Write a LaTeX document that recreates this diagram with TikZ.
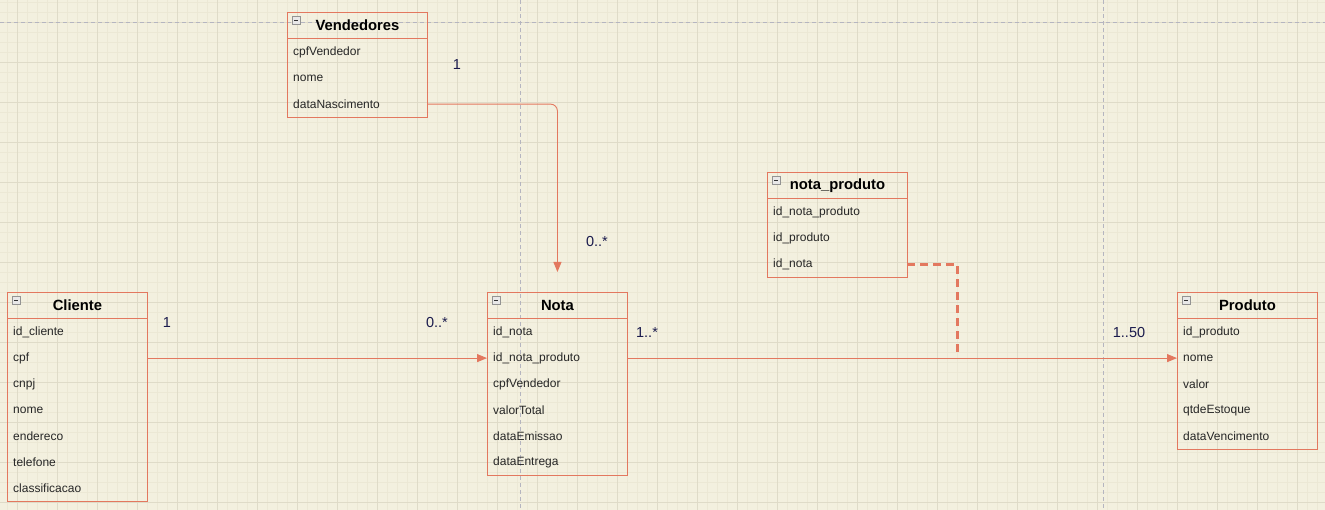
\documentclass[tikz,border=0pt]{standalone}
\usepackage{fontspec}
\setmainfont{Liberation Sans}
\usetikzlibrary{arrows.meta,calc}

\definecolor{fundo}{HTML}{F3F0DF}
\definecolor{gradefina}{HTML}{ECE8D5}
\definecolor{gradegrossa}{HTML}{DFDBC8}
\definecolor{borda}{HTML}{E3785F}
\definecolor{azulrot}{HTML}{1B1B4D}
\definecolor{quebra}{HTML}{B5B5C0}

\tikzset{
  cabecalho/.style={draw=borda,line width=0.9pt,anchor=north west,minimum width=140pt,
    minimum height=26pt,inner sep=0pt,font=\fontsize{14.8}{16}\selectfont\bfseries},
  campo/.style={anchor=north west,minimum height=26pt,text width=128pt,inner xsep=6pt,
    inner ysep=0pt,align=left,font=\fontsize{12}{14}\selectfont,text=black!85},
  moldura/.style={draw=borda,line width=0.9pt},
  seta/.style={draw=borda,line width=0.9pt,-{Triangle[length=10pt,width=8pt]}},
  tracejado/.style={draw=borda,line width=3pt,dash pattern=on 8pt off 5pt},
  rotulo/.style={text=azulrot,font=\fontsize{14.5}{16}\selectfont},
}

% entidade: nome, x, y, titulo, numero de campos, campos
\newcommand{\entidade}[6]{%
  \node[cabecalho] (#1) at (#2,#3) {#4};
  \draw[gray!85,fill=gray!18,line width=0.7pt] ($(#1.north west)+(5,4)$) rectangle +(8,8);
  \draw[black!80,line width=0.9pt] ($(#1.north west)+(7,8)$) -- +(4,0);
  \foreach \c [count=\i] in {#6}
    \node[campo] (#1-\i) at ($(#1.south west)+(0,{26*(\i-1)})$) {\c};
  \draw[moldura] (#1.north west) rectangle (#1-#5.south east);
}

\begin{document}
\begin{tikzpicture}[x=1pt,y=-1pt]
  \useasboundingbox (0,0) rectangle (1325,510);
  \fill[fundo] (0,0) rectangle (1325,510);
  % grade
  \foreach \x in {7,17,...,1317} \draw[gradefina,line width=0.8pt] (\x,0) -- (\x,510);
  \foreach \y in {2,12,...,502} \draw[gradefina,line width=0.8pt] (0,\y) -- (1325,\y);
  \foreach \x in {17,57,...,1297} \draw[gradegrossa,line width=0.8pt] (\x,0) -- (\x,510);
  \foreach \y in {22,62,...,502} \draw[gradegrossa,line width=0.8pt] (0,\y) -- (1325,\y);
  % quebras de pagina
  \draw[quebra,line width=0.8pt,dash pattern=on 4pt off 3pt] (520,0) -- (520,510);
  \draw[quebra,line width=0.8pt,dash pattern=on 4pt off 3pt] (1103,0) -- (1103,510);
  \draw[quebra,line width=0.8pt,dash pattern=on 4pt off 3pt] (0,22) -- (1325,22);

  \entidade{vend}{287}{12}{Vendedores}{3}{cpfVendedor,nome,dataNascimento}
  \entidade{cli}{7}{292}{Cliente}{7}{id\_cliente,cpf,cnpj,nome,endereco,telefone,classificacao}
  \entidade{nota}{487}{292}{Nota}{6}{id\_nota,id\_nota\_produto,cpfVendedor,valorTotal,dataEmissao,dataEntrega}
  \entidade{np}{767}{172}{nota\_produto}{3}{id\_nota\_produto,id\_produto,id\_nota}
  \entidade{prod}{1177}{292}{Produto}{5}{id\_produto,nome,valor,qtdeEstoque,dataVencimento}

  \coordinate (notaent) at ($(nota.north)+(0,-20)$);
  \coordinate (juncao) at (957,352);

  \draw[seta,rounded corners=7pt] (vend-3.east) -| (notaent);
  \draw[seta] (cli-2.east) -- (nota-2.west);
  \draw[seta] (nota-2.east) -- (prod-2.west);
  \draw[tracejado] (np-3.east) -| (juncao);

  \node[rotulo] (r1) at (457,65) {1};
  \node[rotulo] (r2) at (597,242) {0..*};
  \node[rotulo] (r3) at (167,323) {1};
  \node[rotulo] (r4) at (437,323) {0..*};
  \node[rotulo] (r5) at (647,333) {1..*};
  \node[rotulo] (r6) at (1129,333) {1..50};
\end{tikzpicture}
\end{document}
